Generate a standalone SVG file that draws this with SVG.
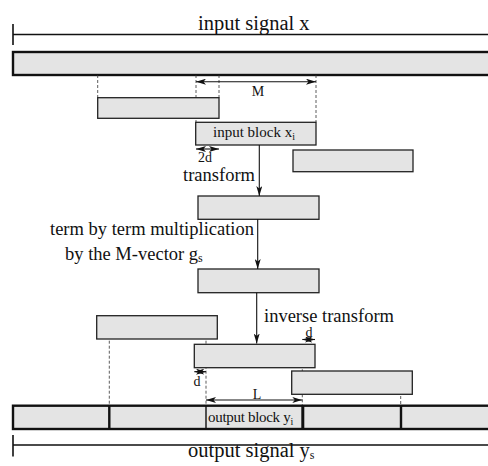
<svg xmlns="http://www.w3.org/2000/svg" width="488" height="466" viewBox="0 0 488 466">
  <defs>
    <style>
      text { font-family: "Liberation Serif", "Times New Roman", serif; fill: #111; }
      .big { font-size: 20.5px; }
      .lab { font-size: 18.5px; }
      .sm { font-size: 14px; }
      .blk { font-size: 15px; }
      .bar { fill: #e4e4e4; stroke: #111; stroke-width: 2.4; }
      .box { fill: #e4e4e4; stroke: #222; stroke-width: 1.3; }
      .dash { fill: none; stroke: #333; stroke-width: 0.8; stroke-dasharray: 3 2; }
      .line { fill: none; stroke: #111; stroke-width: 1.6; }
      .arr { fill: none; stroke: #111; stroke-width: 1.1; }
    </style>
    <marker id="head" viewBox="0 0 10 6" refX="10" refY="3" markerWidth="10" markerHeight="6" markerUnits="userSpaceOnUse" orient="auto-start-reverse">
      <path d="M0,0 L10,3 L0,6 L2.5,3 z" fill="#111"/>
    </marker>
  </defs>

  <!-- input signal scale -->
  <g id="input-signal">
    <path class="line" d="M13,34.5 H488 M13,24 V45"/>
    <text class="big" x="198" y="30">input signal x</text>
  </g>
  <g id="input-bar">
    <rect class="bar" x="13" y="52" width="480" height="23"/>
  </g>

  <!-- guide lines -->
  <g id="guides">
    <path class="dash" d="M97.7,75 V97.7 M196,75 V122.3 M219,75 V97.7 M316,75 V122.3"/>
    <path class="dash" d="M109.3,315.7 V405.7 M206,315.7 V405.7 M302.3,344.3 V405.7 M400.7,371 V405.7"/>
  </g>

  <!-- input blocks -->
  <g id="in-block-prev">
    <rect class="box" x="97.7" y="97.7" width="121.3" height="20.6"/>
  </g>
  <g id="in-block">
    <rect class="box" x="195.7" y="122.3" width="120.3" height="22.7"/>
    <text class="blk" x="213" y="137">input block x<tspan font-size="10" dy="3">i</tspan></text>
  </g>
  <g id="in-block-next">
    <rect class="box" x="293" y="150" width="120" height="21.7"/>
  </g>

  <!-- spectral blocks -->
  <g id="transformed">
    <rect class="box" x="198" y="196" width="121" height="23.3"/>
  </g>
  <g id="weighted">
    <rect class="box" x="198" y="269" width="121" height="23.7"/>
  </g>

  <!-- output blocks -->
  <g id="out-block-prev">
    <rect class="box" x="96.7" y="315.7" width="120.6" height="23.3"/>
  </g>
  <g id="out-block">
    <rect class="box" x="194.3" y="344.3" width="120.7" height="23.4"/>
  </g>
  <g id="out-block-next">
    <rect class="box" x="291.7" y="371" width="120.6" height="23.3"/>
  </g>

  <!-- output signal -->
  <g id="output-bar">
    <rect class="bar" x="13" y="405.7" width="480" height="23.3"/>
    <path fill="none" stroke="#111" stroke-width="2.4" d="M109.3,405.7 V429 M401,405.7 V429"/>
    <path fill="none" stroke="#111" stroke-width="1.4" d="M206,405.7 V429"/>
    <path fill="none" stroke="#111" stroke-width="3" d="M302.8,405.7 V429"/>
    <text class="blk" x="208" y="422" letter-spacing="-0.3">output block y<tspan font-size="10" dy="3">i</tspan></text>
  </g>
  <g id="output-signal">
    <path class="line" d="M13,445 H488 M13,435 V456.5"/>
    <text class="big" x="188" y="457">output signal y<tspan font-size="12" dy="2">s</tspan></text>
  </g>

  <!-- connectors and dimension marks -->
  <g id="connectors">
    <path class="arr" marker-end="url(#head)" d="M259.3,145 V196"/>
    <path class="arr" marker-end="url(#head)" d="M257.7,219.3 V269"/>
    <path class="arr" marker-end="url(#head)" d="M256.7,292.7 V343.5"/>
    <path class="arr" marker-start="url(#head)" marker-end="url(#head)" d="M196,81.7 H316"/>
    <path class="arr" marker-start="url(#head)" marker-end="url(#head)" d="M196,149 H219"/>
    <path class="arr" marker-start="url(#head)" marker-end="url(#head)" d="M302.3,339.5 H315"/>
    <path class="arr" marker-start="url(#head)" marker-end="url(#head)" d="M194.3,371.7 H206"/>
    <path class="arr" marker-start="url(#head)" marker-end="url(#head)" d="M206,400 H302.3"/>
  </g>

  <!-- labels -->
  <g id="labels">
    <text class="sm" x="258" y="96" text-anchor="middle">M</text>
    <text class="sm" x="205" y="162" text-anchor="middle">2d</text>
    <text class="lab" x="255" y="181" text-anchor="end">transform</text>
    <text class="lab" x="254" y="235" text-anchor="end">term by term multiplication</text>
    <text class="lab" x="65" y="260">by the M-vector g<tspan font-size="12" dy="2">s</tspan></text>
    <text class="lab" x="264" y="322">inverse transform</text>
    <text class="sm" x="309" y="337" text-anchor="middle">d</text>
    <text class="sm" x="197" y="386" text-anchor="middle">d</text>
    <text class="sm" x="257" y="399" text-anchor="middle">L</text>
  </g>
</svg>
